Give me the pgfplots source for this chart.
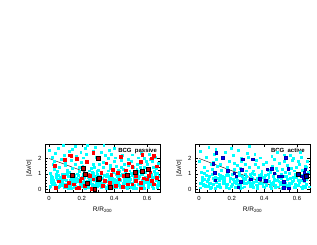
\documentclass[border=0pt]{standalone}
\usepackage{fontspec}
\setmainfont{Liberation Sans}
\usepackage{pgfplots}
\pgfplotsset{compat=1.18}
\usepackage{pgfplotstable}

\definecolor{cy}{RGB}{0,255,255}
\definecolor{rd}{RGB}{255,0,0}
\definecolor{drd}{RGB}{190,0,0}
\definecolor{bl}{RGB}{0,0,255}
\definecolor{dbl}{RGB}{0,0,170}

\pgfplotstableread{
x y
0.004 0.12
0.012 0.55
0.008 1.05
0.019 0.30
0.001 2.55
0.015 0.85
0.022 1.60
0.006 0.20
0.017 2.10
0.010 0.70
0.029 0.40
0.037 0.05
0.033 1.30
0.044 0.95
0.026 0.60
0.040 2.35
0.047 0.15
0.031 1.80
0.042 0.75
0.035 0.28
0.054 0.90
0.062 0.18
0.058 2.70
0.069 0.50
0.051 1.15
0.065 0.35
0.072 1.95
0.056 0.08
0.067 0.68
0.060 1.45
0.079 0.25
0.087 1.00
0.083 0.45
0.094 2.20
0.076 0.78
0.090 0.12
0.097 1.55
0.081 0.62
0.092 0.32
0.085 2.85
0.104 0.58
0.112 1.25
0.108 0.10
0.119 0.82
0.101 1.70
0.115 0.38
0.122 2.45
0.106 0.95
0.117 0.22
0.110 1.05
0.129 0.15
0.137 0.72
0.133 1.90
0.144 0.42
0.126 1.10
0.140 2.60
0.147 0.58
0.131 0.30
0.142 1.35
0.135 0.05
0.154 0.88
0.162 0.20
0.158 1.60
0.169 0.55
0.151 0.35
0.165 2.15
0.172 1.00
0.156 0.10
0.167 0.70
0.160 2.80
0.179 0.48
0.187 1.15
0.183 0.08
0.194 2.40
0.176 0.65
0.190 0.28
0.197 1.75
0.181 0.92
0.192 0.40
0.185 1.40
0.204 0.18
0.212 0.60
0.208 2.05
0.219 1.05
0.201 0.35
0.215 0.80
0.222 2.65
0.206 1.50
0.217 0.12
0.210 0.45
0.229 0.95
0.237 0.25
0.233 1.80
0.244 0.62
0.226 2.30
0.240 0.10
0.247 1.20
0.231 0.50
0.242 0.78
0.235 2.85
0.254 0.40
0.262 1.10
0.258 0.05
0.269 1.65
0.251 0.72
0.265 0.30
0.272 2.50
0.256 0.88
0.267 0.15
0.260 1.35
0.279 0.55
0.287 2.10
0.283 0.22
0.294 0.95
0.276 1.45
0.290 0.40
0.297 0.68
0.281 2.75
0.292 1.15
0.285 0.08
0.304 0.30
0.312 0.85
0.308 1.95
0.319 0.12
0.301 1.25
0.315 0.58
0.322 2.40
0.306 0.45
0.317 1.05
0.310 1.60
0.329 0.70
0.337 0.20
0.333 1.40
0.344 2.20
0.326 0.38
0.340 0.90
0.347 0.05
0.331 1.75
0.342 0.55
0.335 2.90
0.354 0.15
0.362 1.20
0.358 0.48
0.369 2.55
0.351 0.82
0.365 0.28
0.372 1.55
0.356 1.00
0.367 0.62
0.360 2.00
0.379 0.92
0.387 0.35
0.383 2.30
0.394 0.10
0.376 1.35
0.390 0.70
0.397 1.85
0.381 0.50
0.392 1.10
0.385 0.22
0.404 0.42
0.412 1.50
0.408 0.18
0.419 0.85
0.401 2.70
0.415 0.60
0.422 1.25
0.406 2.05
0.417 0.30
0.410 0.98
0.429 1.15
0.437 0.08
0.433 0.65
0.444 1.90
0.426 0.40
0.447 0.88
0.431 0.25
0.442 1.40
0.435 0.55
0.454 0.20
0.462 0.78
0.458 1.65
0.469 0.45
0.451 2.20
0.465 1.05
0.472 0.12
0.456 1.30
0.460 0.60
0.479 0.65
0.487 1.95
0.483 0.30
0.494 1.20
0.476 0.90
0.490 0.15
0.481 0.50
0.492 0.78
0.485 1.55
0.504 1.02
0.512 0.38
0.508 2.25
0.519 0.70
0.501 0.12
0.515 1.45
0.522 0.55
0.506 1.80
0.517 0.25
0.510 0.88
0.529 0.48
0.537 1.30
0.533 0.05
0.544 2.05
0.526 0.75
0.540 0.95
0.547 0.32
0.542 1.60
0.535 0.60
0.554 0.85
0.562 0.20
0.558 1.70
0.569 0.55
0.551 1.15
0.565 2.35
0.572 0.40
0.556 0.10
0.567 1.00
0.560 1.45
0.579 0.30
0.587 1.10
0.583 0.65
0.594 1.85
0.576 0.15
0.590 0.80
0.581 1.40
0.592 0.45
0.585 2.00
0.604 1.25
0.612 0.50
0.608 0.08
0.619 0.92
0.601 1.65
0.615 2.30
0.622 0.35
0.606 0.72
0.617 1.95
0.610 0.22
0.629 0.62
0.637 1.45
0.633 0.18
0.626 0.95
0.640 0.40
0.647 1.15
0.631 1.80
0.642 0.80
0.635 2.25
0.654 0.28
0.662 1.05
0.658 0.55
0.669 1.70
0.651 2.10
0.665 0.12
0.672 0.85
0.656 1.35
0.667 0.45
0.015 0.42
0.045 0.88
0.070 0.27
0.095 0.66
0.118 0.05
0.142 0.95
0.163 0.46
0.188 0.72
0.210 0.95
0.228 0.38
0.252 0.58
0.270 0.82
0.295 0.18
0.318 0.72
0.340 0.42
0.362 0.85
0.388 0.60
0.410 0.08
0.432 0.92
0.455 0.35
0.478 0.05
0.500 0.62
0.523 0.22
0.546 0.72
0.570 0.95
0.590 0.55
0.614 0.30
0.638 0.05
0.660 0.68
0.020 0.78
0.050 0.62
0.080 0.95
0.105 0.32
0.130 0.55
0.155 0.62
0.178 0.15
0.200 0.78
0.222 0.05
0.245 0.48
0.268 1.02
0.290 0.75
0.312 0.22
0.335 0.60
0.358 0.05
0.380 0.75
0.402 0.62
0.425 0.72
0.448 0.98
0.470 0.38
0.492 0.42
0.515 0.05
0.538 0.88
0.560 0.32
0.583 0.05
0.605 0.45
0.628 0.82
0.650 0.95
0.668 0.22
}\cyanL

\pgfplotstableread{
x y
0.033 1.53
0.135 2.19
0.17 1.98
0.27 2.38
0.23 1.79
0.09 0.81
0.06 0.50
0.17 0.04
0.18 0.10
0.37 0.43
0.19 0.53
0.25 0.85
0.35 1.70
0.39 1.28
0.42 1.06
0.49 1.70
0.47 1.23
0.51 1.45
0.57 2.23
0.56 1.79
0.64 2.19
0.63 2.02
0.53 0.53
0.56 0.43
0.60 0.64
0.63 0.53
0.66 0.75
0.51 0.32
0.48 0.32
0.56 0.04
0.43 0.64
0.455 0.85
0.41 0.21
0.33 0.21
0.34 0.53
0.27 0.64
0.66 1.49
0.61 0.85
0.53 0.85
0.64 0.32
0.12 0.43
0.22 0.21
0.26 0.02
0.15 0.32
0.096 1.90
0.128 2.22
0.04 0.10
0.10 0.20
0.32 1.05
0.44 2.10
0.58 0.70
0.45 0.15
0.62 1.10
0.38 0.95
0.20 0.70
}\redL

\pgfplotstableread{
x y
0.30 2.00
0.14 0.87
0.21 1.34
0.22 0.94
0.236 0.36
0.28 0.00
0.30 0.64
0.31 0.72
0.373 0.09
0.53 1.10
0.48 0.90
0.57 1.13
0.61 1.32
}\bigL

\pgfplotstableread{
x y
0.005 0.35
0.013 1.10
0.009 0.08
0.020 0.75
0.002 1.85
0.016 0.50
0.023 0.22
0.007 2.45
0.030 0.62
0.038 0.15
0.034 1.40
0.045 0.90
0.027 0.30
0.041 2.10
0.048 0.48
0.032 1.05
0.055 0.20
0.063 0.85
0.059 2.75
0.070 0.40
0.052 1.20
0.066 0.05
0.073 1.60
0.057 0.65
0.080 0.95
0.088 0.30
0.084 1.75
0.095 0.55
0.077 0.12
0.091 2.30
0.098 0.78
0.082 1.30
0.105 0.45
0.113 1.50
0.109 0.18
0.120 0.98
0.102 2.60
0.116 0.68
0.123 0.30
0.107 1.95
0.130 0.10
0.138 0.72
0.134 1.25
0.145 0.40
0.127 0.90
0.141 2.05
0.148 0.58
0.132 1.62
0.155 0.55
0.163 0.25
0.159 2.40
0.170 1.05
0.152 0.80
0.166 0.12
0.173 1.45
0.157 0.38
0.180 0.88
0.188 0.48
0.184 1.85
0.195 0.20
0.177 1.15
0.191 0.68
0.198 2.70
0.182 0.05
0.205 0.32
0.213 1.30
0.209 0.62
0.220 0.10
0.202 0.95
0.216 1.70
0.223 0.45
0.207 2.20
0.230 0.75
0.238 0.18
0.234 1.55
0.245 0.92
0.227 0.40
0.241 2.55
0.248 1.10
0.232 0.60
0.255 0.22
0.263 0.85
0.259 2.00
0.270 0.50
0.252 1.35
0.266 0.08
0.273 0.70
0.257 1.80
0.280 1.00
0.288 0.35
0.284 0.62
0.295 2.35
0.277 0.15
0.291 1.20
0.298 0.45
0.282 1.60
0.305 0.55
0.313 0.20
0.309 1.45
0.320 0.80
0.302 2.10
0.316 0.38
0.323 1.05
0.307 2.80
0.330 0.12
0.338 0.95
0.334 0.45
0.345 1.65
0.327 0.70
0.341 2.30
0.348 0.28
0.332 1.20
0.355 0.68
0.363 1.40
0.359 0.05
0.370 0.90
0.352 1.90
0.366 0.40
0.357 0.22
0.380 0.35
0.388 0.78
0.384 1.15
0.395 0.15
0.377 2.05
0.391 1.60
0.398 0.55
0.382 0.98
0.405 0.92
0.413 0.25
0.409 1.75
0.420 0.60
0.402 0.10
0.423 1.25
0.407 0.45
0.430 0.50
0.438 1.10
0.434 0.18
0.445 2.15
0.427 0.80
0.441 0.35
0.448 1.50
0.455 0.28
0.463 0.65
0.459 1.95
0.470 1.00
0.452 0.42
0.466 0.08
0.473 1.35
0.457 0.85
0.480 1.20
0.488 0.48
0.484 0.15
0.495 0.78
0.477 2.40
0.491 1.70
0.498 0.30
0.482 0.62
0.505 0.70
0.513 0.22
0.509 1.30
0.520 2.25
0.502 0.95
0.516 0.40
0.523 1.85
0.507 0.05
0.530 0.40
0.538 1.55
0.534 0.85
0.545 0.12
0.527 1.10
0.541 0.62
0.532 0.28
0.555 1.05
0.563 0.35
0.559 0.72
0.570 1.90
0.552 0.18
0.566 1.35
0.573 0.50
0.557 2.20
0.580 0.55
0.588 0.95
0.584 0.10
0.595 1.45
0.577 2.00
0.591 0.30
0.598 0.78
0.582 1.20
0.605 0.25
0.613 1.60
0.609 0.60
0.620 2.40
0.602 1.05
0.616 0.42
0.623 0.15
0.607 1.85
0.630 0.88
0.638 0.20
0.634 1.25
0.645 0.50
0.627 2.10
0.641 0.70
0.648 1.50
0.632 0.05
0.655 0.62
0.663 1.80
0.659 0.32
0.670 1.10
0.666 0.85
0.673 0.15
0.657 1.40
0.018 0.60
0.060 0.35
0.100 0.05
0.140 0.85
0.175 0.30
0.215 0.52
0.250 0.05
0.290 0.82
0.325 0.25
0.365 0.62
0.400 0.72
0.440 0.05
0.475 0.55
0.515 0.85
0.550 0.40
0.590 0.12
0.625 0.58
0.660 0.30
0.040 0.25
0.085 0.70
0.125 0.55
0.165 0.90
0.200 0.15
0.240 0.30
0.275 0.35
0.315 0.95
0.350 0.50
0.390 0.30
0.425 0.95
0.465 0.25
0.500 0.45
0.540 0.15
0.575 0.75
0.615 0.95
0.650 0.10
}\cyanR

\pgfplotstableread{
x y
0.104 2.37
0.146 2.04
0.087 1.67
0.094 1.08
0.098 0.58
0.215 1.04
0.228 0.83
0.256 0.46
0.268 1.96
0.26 1.25
0.327 1.96
0.315 0.63
0.37 0.67
0.417 1.29
0.447 1.33
0.24 0.125
0.53 2.04
0.547 1.33
0.51 0.83
0.488 0.83
0.52 0.46
0.52 0.10
0.55 0.04
0.63 0.83
0.64 0.73
0.645 0.58
0.65 1.29
0.645 1.08
0.41 0.52
0.46 1.04
0.177 1.21
0.66 0.95
}\blueR

\pgfplotstableread{
x y
0.606 0.94
0.655 0.82
}\bigR

\pgfplotsset{
  myax/.style={
    scale only axis, width=115bp, height=48bp,
    xmin=-0.025, xmax=0.68, ymin=-0.2, ymax=2.95,
    xtick={0,0.2,0.4,0.6}, ytick={0,1,2},
    minor x tick num=3, minor y tick num=4,
    tick align=inside,
    major tick length=2.8bp, minor tick length=1.5bp,
    every tick/.style={black, line width=0.4pt},
    axis line style={line width=0.5pt},
    tick label style={font=\fontsize{6}{7}\selectfont},
    label style={font=\fontsize{6.5}{7}\selectfont},
    /pgf/number format/assume math mode=true,
    xlabel={R/R\textsubscript{200}},
    ylabel={|Δv/σ|},
    xticklabel style={yshift=-1bp},
    xlabel style={yshift=1bp},
    ylabel style={yshift=-1bp},
    clip=true,
  },
  cyanmk/.style={only marks, mark=square*, mark size=0.95pt, mark options={fill=cy, draw=cy}},
}

\begin{document}
\begin{tikzpicture}
\useasboundingbox (0,0) rectangle (317bp,245bp);
\begin{axis}[myax, at={(45bp,53bp)}, anchor=south west]
\addplot[cyanmk] table {\cyanL};
\addplot[black, line width=0.4pt] coordinates {(0,2) (0.5,0)};
\addplot[only marks, mark=square*, mark size=1.35pt, mark options={fill=rd, draw=rd}] table {\redL};
\addplot[only marks, mark=square*, mark size=2.0pt, mark options={fill=drd, draw=black, line width=0.5pt}] table {\bigL};
\node[anchor=north east, font=\fontsize{6}{7}\selectfont\bfseries, inner sep=0.6pt] at (rel axis cs:0.98,0.93) {BCG\ \ passive};
\end{axis}
\begin{axis}[myax, at={(195bp,53bp)}, anchor=south west]
\addplot[cyanmk] table {\cyanR};
\addplot[black, line width=0.4pt] coordinates {(0,2) (0.5,0)};
\addplot[only marks, mark=square*, mark size=1.35pt, mark options={fill=bl, draw=dbl}] table {\blueR};
\addplot[only marks, mark=square*, mark size=2.0pt, mark options={fill=dbl, draw=black, line width=0.5pt}] table {\bigR};
\node[anchor=north east, font=\fontsize{6}{7}\selectfont\bfseries, inner sep=0.6pt] at (rel axis cs:0.96,0.93) {BCG\ \ active};
\end{axis}
\end{tikzpicture}
\end{document}
